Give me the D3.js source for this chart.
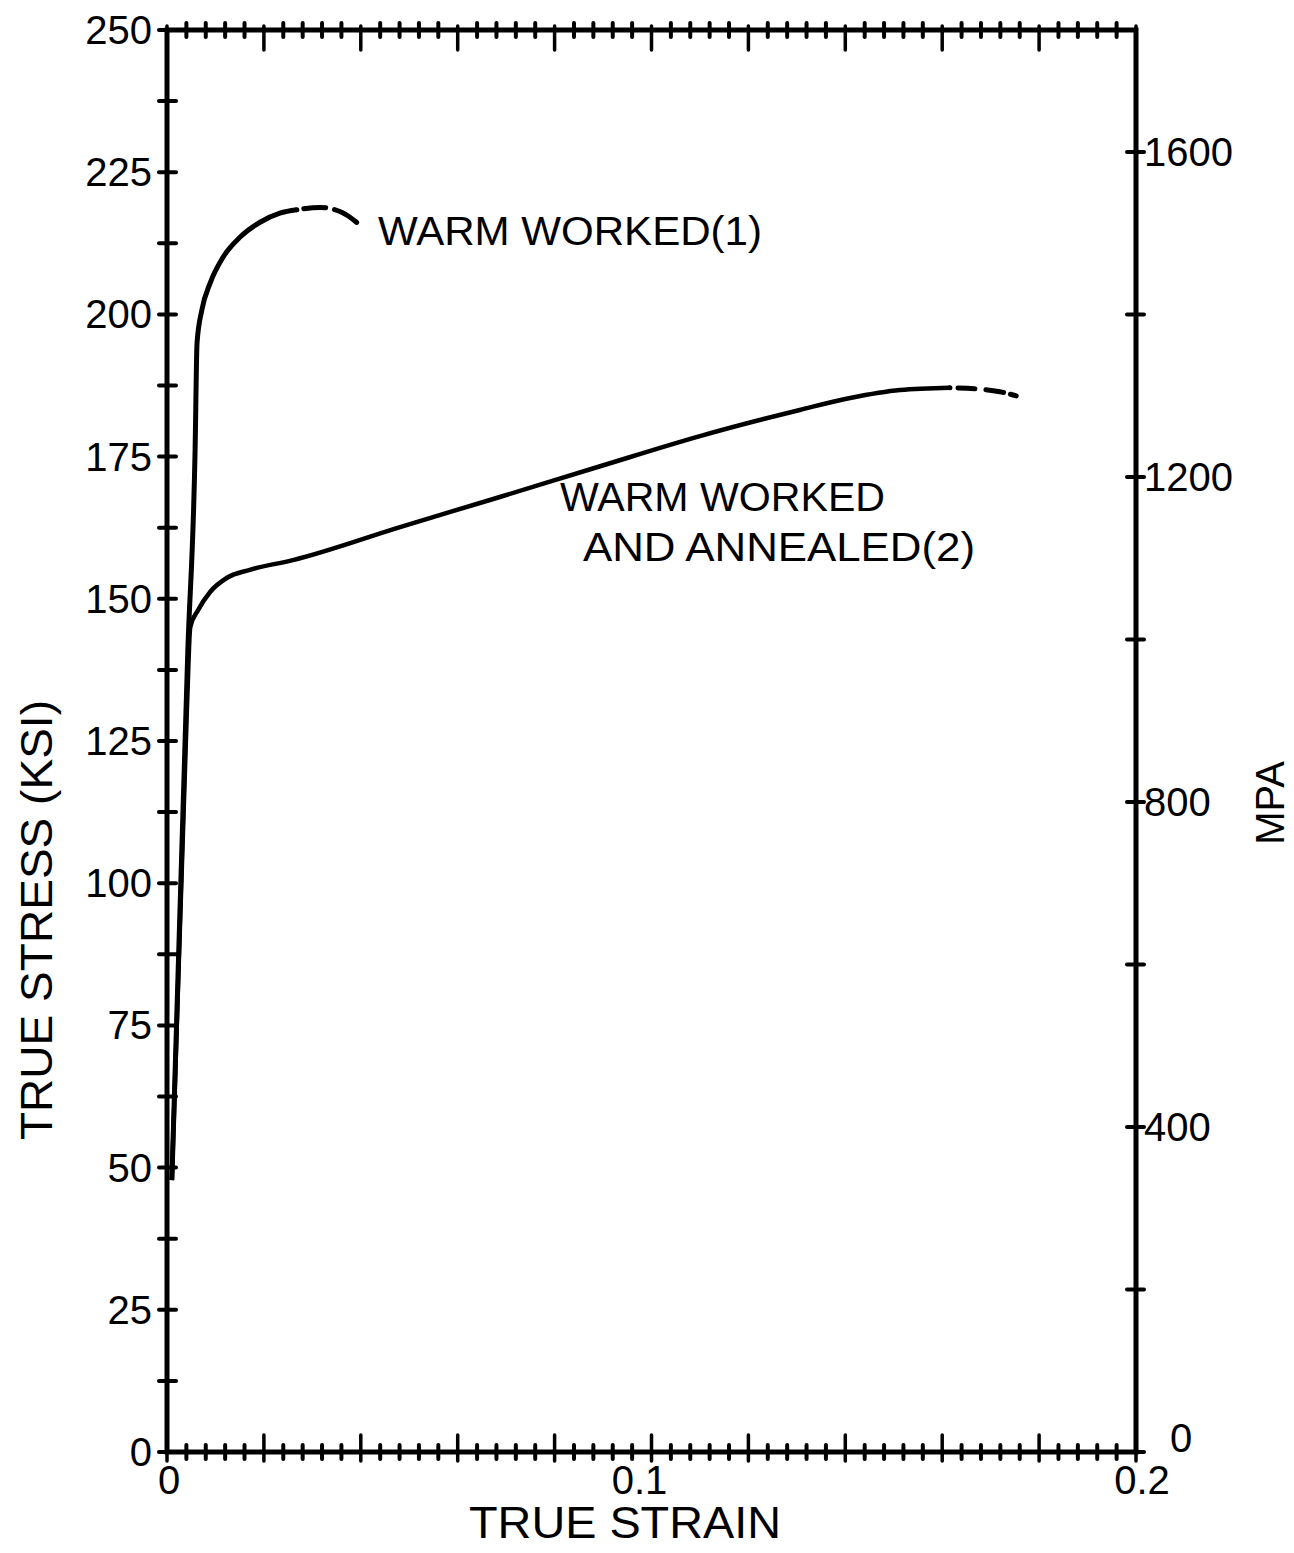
<!DOCTYPE html>
<html>
<head>
<meta charset="utf-8">
<script src="https://cdn.jsdelivr.net/npm/d3@7"></script>
<style>
  html, body { margin: 0; padding: 0; background: #fff; }
  text { font-family: "Liberation Sans", Arial, sans-serif; fill: #000; }
</style>
</head>
<body>
<svg id="chart" width="1294" height="1553"></svg>
<script>
// ---------- data ----------
const wwStrain  = [0.0010, 0.0043, 0.0058, 0.0062, 0.0072, 0.0089, 0.0116, 0.0151, 0.0192, 0.0233, 0.0268];
const wwStress  = [47.8, 141.0, 176.2, 195.0, 200.8, 205.5, 210.1, 213.6, 216.2, 217.8, 218.4];
const wwDashStrain = [0.0268, 0.0316, 0.0357, 0.0405];
const wwDashStress = [218.4, 218.8, 218.1, 215.2];

const waStrain  = [0.0010, 0.0041, 0.0048, 0.0064, 0.0089, 0.0124, 0.0171, 0.0260, 0.0481, 0.0687, 0.0894, 0.1100, 0.1306, 0.1410, 0.1513, 0.1616];
const waStress  = [47.8, 130.4, 145.0, 148.0, 151.2, 153.7, 155.1, 156.8, 162.6, 167.9, 173.3, 178.6, 183.2, 185.3, 186.7, 187.1];
const waDashStrain = [0.1616, 0.1672, 0.1719, 0.1760];
const waDashStress = [187.1, 186.9, 186.4, 185.5];

const ksiTickLabels = [0, 25, 50, 75, 100, 125, 150, 175, 200, 225, 250];
const mpaTickLabels = [0, 400, 800, 1200, 1600];
const strainTickLabels = [0, 0.1, 0.2];

// ---------- scales ----------
const svg = d3.select("#chart");
const x = d3.scaleLinear().domain([0, 0.2]).range([167, 1136]);
const y = d3.scaleLinear().domain([0, 250]).range([1452, 30]);
const yR = d3.scaleLinear().domain([0, 1750]).range([1452, 30]);

svg.append("rect").attr("width", 1294).attr("height", 1553).attr("fill", "#fff");

// ---------- frame ----------
svg.append("rect")
  .attr("x", x(0)).attr("y", y(250))
  .attr("width", x(0.2) - x(0)).attr("height", y(0) - y(250))
  .attr("fill", "none").attr("stroke", "#000").attr("stroke-width", 5);

const tk = svg.append("g").attr("stroke", "#000").attr("stroke-linecap", "round");

// x ticks (bottom & top): minor every 0.004, major every 0.02
const xTicks = d3.range(0, 51).map(i => i * 0.004);
xTicks.forEach((v, i) => {
  const major = i % 5 === 0;
  const px = x(v);
  tk.append("line").attr("x1", px).attr("x2", px)
    .attr("y1", y(0) - (major ? 17 : 7)).attr("y2", y(0) + (major ? 9 : 7))
    .attr("stroke-width", major ? 3.5 : 4);
  tk.append("line").attr("x1", px).attr("x2", px)
    .attr("y1", y(250) - (major ? 4 : 7)).attr("y2", y(250) + (major ? 20 : 7))
    .attr("stroke-width", major ? 3.5 : 4);
});

// left ticks every 12.5 ksi
d3.range(0, 21).map(i => i * 12.5).forEach(v => {
  tk.append("line").attr("x1", x(0) - 8).attr("x2", x(0) + 9)
    .attr("y1", y(v)).attr("y2", y(v)).attr("stroke-width", 4);
});
// right ticks every 200 MPa
d3.range(0, 9).map(i => i * 200).forEach(v => {
  tk.append("line").attr("x1", x(0.2) - 9).attr("x2", x(0.2) + 8)
    .attr("y1", yR(v)).attr("y2", yR(v)).attr("stroke-width", 4);
});

// ---------- tick labels ----------
const lab = svg.append("g").attr("font-size", 40);
ksiTickLabels.forEach(v => {
  lab.append("text").attr("x", x(0) - 15).attr("y", y(v))
    .attr("text-anchor", "end").attr("dominant-baseline", "central").text(v);
});
mpaTickLabels.forEach(v => {
  if (v === 0) {
    lab.append("text").attr("x", x(0.2) + 45).attr("y", yR(v) - 14)
      .attr("text-anchor", "middle").attr("dominant-baseline", "central").text(v);
  } else {
    lab.append("text").attr("x", x(0.2) + 8).attr("y", yR(v))
      .attr("text-anchor", "start").attr("dominant-baseline", "central").text(v);
  }
});
strainTickLabels.forEach(v => {
  lab.append("text").attr("x", x(v) + (v === 0 ? 2 : v === 0.2 ? 6 : -12)).attr("y", y(0) + 28)
    .attr("text-anchor", "middle").attr("dominant-baseline", "central").text(v === 0 ? "0" : String(v));
});

// ---------- axis titles ----------
svg.append("text").attr("x", 625).attr("y", 1538).attr("font-size", 44)
  .attr("text-anchor", "middle").attr("textLength", 312).attr("lengthAdjust", "spacingAndGlyphs")
  .text("TRUE STRAIN");
svg.append("text").attr("transform", "translate(52,920) rotate(-90)").attr("font-size", 44)
  .attr("text-anchor", "middle").attr("textLength", 440).attr("lengthAdjust", "spacingAndGlyphs")
  .text("TRUE STRESS (KSI)");
svg.append("text").attr("transform", "translate(1284,803) rotate(-90)").attr("font-size", 40)
  .attr("text-anchor", "middle").text("MPA");

// ---------- curves ----------
const line = d3.line().x(d => x(d[0])).y(d => y(d[1])).curve(d3.curveMonotoneX);
const zip = (a, b) => a.map((v, i) => [v, b[i]]);

svg.append("path").attr("d", line(zip(wwStrain, wwStress)))
  .attr("fill", "none").attr("stroke", "#000").attr("stroke-width", 5).attr("stroke-linejoin", "round");
svg.append("path").attr("d", line(zip(wwDashStrain, wwDashStress)))
  .attr("fill", "none").attr("stroke", "#000").attr("stroke-width", 5)
  .attr("stroke-dasharray", "0 7 22 9 26 100").attr("stroke-linecap", "round");

svg.append("path").attr("d", line(zip(waStrain, waStress)))
  .attr("fill", "none").attr("stroke", "#000").attr("stroke-width", 4.5).attr("stroke-linejoin", "round");
svg.append("path").attr("d", line(zip(waDashStrain, waDashStress)))
  .attr("fill", "none").attr("stroke", "#000").attr("stroke-width", 5)
  .attr("stroke-dasharray", "0 8 17 11 18 7 6 100").attr("stroke-linecap", "round");

// ---------- curve labels ----------
svg.append("text").attr("x", 378).attr("y", 245).attr("font-size", 40)
  .attr("textLength", 384).attr("lengthAdjust", "spacingAndGlyphs").text("WARM  WORKED(1)");
svg.append("text").attr("x", 560).attr("y", 511).attr("font-size", 40)
  .attr("textLength", 325).attr("lengthAdjust", "spacingAndGlyphs").text("WARM  WORKED");
svg.append("text").attr("x", 583).attr("y", 561).attr("font-size", 40)
  .attr("textLength", 392).attr("lengthAdjust", "spacingAndGlyphs").text("AND ANNEALED(2)");
</script>
</body>
</html>
